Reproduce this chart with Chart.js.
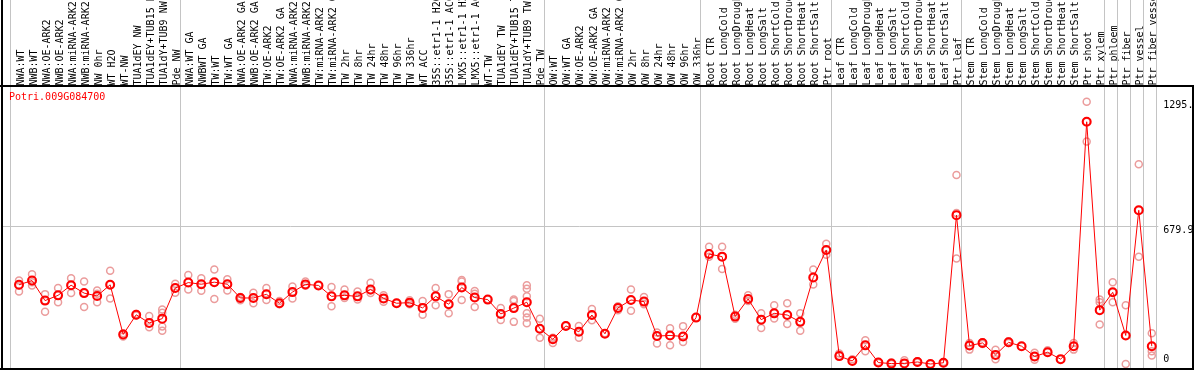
<!DOCTYPE html>
<html>
<head>
<meta charset="utf-8">
<title>Potri.009G084700</title>
<script src="https://cdn.jsdelivr.net/npm/chart.js@4/dist/chart.umd.min.js"></script>
<style>
    html, body { margin: 0; padding: 0; background: #fff; }
    #wadah { width: 1194px; height: 370px; }
</style>
</head>
<body>
<div id="wadah"><canvas id="grafik-ekspresi" width="1194" height="370"></canvas></div>
<script>
const geneName = 'Potri.009G084700';

const categories = [
    'NWA:WT', 'NWB:WT', 'NWA:OE-ARK2', 'NWB:OE-ARK2', 'NWA:miRNA-ARK2', 'NWB:miRNA-ARK2',
    'NW 0hr', 'WT H2O', 'WT-NW', 'TUA1dEY NW', 'TUA1dEY+TUB15 NW', 'TUA1dY+TUB9 NW', 'Pde NW',
    'NWA:WT GA', 'NWBWT GA', 'TW:WT', 'TW:WT GA', 'NWA:OE-ARK2 GA', 'NWB:OE-ARK2 GA',
    'TW:OE-ARK2', 'TW:OE-ARK2 GA', 'NWA:miRNA-ARK2 GA', 'NWB:miRNA-ARK2 GA', 'TW:miRNA-ARK2',
    'TW:miRNA-ARK2 GA', 'TW 2hr', 'TW 8hr', 'TW 24hr', 'TW 48hr', 'TW 96hr', 'TW 336hr', 'WT ACC',
    '35S::etr1-1 H2O', '35S::etr1-1 ACC', 'LMX5::etr1-1 H2O', 'LMX5::etr1-1 ACC', 'WT-TW',
    'TUA1dEY TW', 'TUA1dEY+TUB15 TW', 'TUA1dY+TUB9 TW', 'Pde TW',
    'OW:WT', 'OW:WT GA', 'OW:OE-ARK2', 'OW:OE-ARK2 GA', 'OW:miRNA-ARK2', 'OW:miRNA-ARK2 GA',
    'OW 2hr', 'OW 8hr', 'OW 24hr', 'OW 48hr', 'OW 96hr', 'OW 336hr',
    'Root CTR', 'Root LongCold', 'Root LongDrought', 'Root LongHeat', 'Root LongSalt',
    'Root ShortCold', 'Root ShortDrought', 'Root ShortHeat', 'Root ShortSalt', 'Ptr root',
    'Leaf CTR', 'Leaf LongCold', 'Leaf LongDrought', 'Leaf LongHeat', 'Leaf LongSalt',
    'Leaf ShortCold', 'Leaf ShortDrought', 'Leaf ShortHeat', 'Leaf ShortSalt', 'Ptr leaf',
    'Stem CTR', 'Stem LongCold', 'Stem LongDrought', 'Stem LongHeat', 'Stem LongSalt',
    'Stem ShortCold', 'Stem ShortDrought', 'Stem ShortHeat', 'Stem ShortSalt', 'Ptr shoot',
    'Ptr xylem', 'Ptr phloem', 'Ptr fiber', 'Ptr vessel', 'Ptr fiber vessel'
];

// last category of each block (gray separators)
const groupEnds = [12, 40, 52, 62, 72, 83, 84, 85, 86, 87];

const meanValues = [
    391, 412, 313, 339, 389, 350, 336, 391, 146, 243, 203, 224, 375,
    402, 394, 404, 394, 326, 326, 344, 300, 355, 393, 388, 334, 339, 334, 368, 324, 300,
    303, 277, 334, 295, 378, 328, 318, 247, 276, 305, 174,
    122, 188, 159, 242, 149, 277, 316, 308, 138, 141, 136, 229,
    543, 530, 234, 321, 219, 250, 242, 208, 427, 563,
    39, 15, 92, 7, 2, 3, 10, 0, 6, 735,
    91, 104, 45, 107, 88, 37, 58, 24, 88, 1196, 266,
    354, 141, 759, 88
];

const replicateValues = [
    [412, 388, 358], [443, 404, 388], [345, 313, 258], [375, 339, 305], [423, 388, 350],
    [407, 350, 282], [363, 347, 305], [461, 391, 324], [152, 143, 136], [247, 243, 240],
    [237, 203, 182], [269, 253, 185, 164], [396, 375, 352],
    [440, 402, 368], [423, 394, 362], [467, 404, 321], [418, 394, 363], [331, 323, 315],
    [352, 326, 300], [375, 344, 316], [311, 300, 295], [383, 355, 324], [407, 393, 386],
    [388, 390], [380, 334, 285], [368, 339, 326], [358, 334, 318], [401, 363, 350],
    [339, 324, 307], [300, 301], [315, 303, 295], [311, 277, 243], [375, 334, 290],
    [345, 295, 251], [415, 407, 378, 316], [360, 347, 328, 282], [318, 320],
    [277, 247, 217], [318, 311, 276, 208], [389, 371, 334, 305, 250, 230, 201], [224, 174, 130],
    [130, 122, 104], [188, 190], [188, 159, 130], [272, 242, 216], [152, 149], [285, 277, 266],
    [368, 316, 263], [331, 308, 295], [156, 138, 101], [177, 141, 92], [187, 136, 109], [229],
    [579, 543, 529], [579, 530, 469], [243, 234, 224], [339, 321, 311], [250, 219, 178],
    [290, 250, 225], [300, 242, 198], [250, 208, 164], [467, 427, 393], [594, 563, 539],
    [52, 39], [23, 15], [117, 92, 63], [10, 5], [8, 0], [18, 3], [13, 8], [0, 0], [10, 4],
    [933, 745, 521],
    [104, 91, 71], [107, 99], [70, 45, 23], [112, 104], [88], [55, 37, 21], [68, 58], [24],
    [104, 88, 71], [1295, 1196, 1098], [318, 305, 266, 195],
    [404, 354, 305], [290, 141, 0], [986, 759, 529], [152, 88, 63, 42]
];

const yTickValues = [0, 679.9, 1295];
const yTickLabels = ['0', '679.9', '1295.'];
const yMax = 1359.8;
const gridValue = 679.9;

const monoFont = '"DejaVu Sans Mono", "Liberation Mono", monospace';

// flatten replicates into {x, y} points on the category axis
const replicatePoints = [];
replicateValues.forEach((reps, i) => {
    reps.forEach(v => replicatePoints.push({ x: categories[i], y: v }));
});

const bingkai = {
    id: 'bingkai',
    beforeDatasetsDraw(chart) {
        const { ctx, chartArea, scales: { x, y } } = chart;
        ctx.save();
        ctx.strokeStyle = '#c4c4c4';
        ctx.lineWidth = 1;

        // horizontal grid line
        const gy = Math.round(y.getPixelForValue(gridValue)) + 0.5;
        ctx.beginPath();
        ctx.moveTo(1, gy);
        ctx.lineTo(chartArea.right, gy);
        ctx.stroke();

        // block separators, full height
        const sep = [x.getPixelForValue(0) - 8.7].concat(groupEnds.map(i => x.getPixelForValue(i) + 4.3));
        sep.forEach(px => {
            const sx = Math.round(px) + 0.5;
            ctx.beginPath();
            ctx.moveTo(sx, 0);
            ctx.lineTo(sx, chart.height);
            ctx.stroke();
        });
        ctx.restore();
    },
    afterDraw(chart) {
        const { ctx, chartArea, scales: { y } } = chart;
        const w = chart.width, h = chart.height;
        ctx.save();

        ctx.strokeStyle = '#000';
        ctx.lineWidth = 2;
        ctx.beginPath();
        ctx.moveTo(0, 86);
        ctx.lineTo(w, 86);
        ctx.moveTo(2, 0);
        ctx.lineTo(2, h);
        ctx.moveTo(0, h - 1);
        ctx.lineTo(w, h - 1);
        ctx.moveTo(w - 1, 86);
        ctx.lineTo(w - 1, h);
        ctx.stroke();

        ctx.font = '10px ' + monoFont;
        ctx.fillStyle = '#ff0000';
        ctx.textAlign = 'left';
        ctx.textBaseline = 'middle';
        ctx.fillText(geneName, 9, 97);

        ctx.fillStyle = '#000';
        yTickValues.forEach((v, i) => {
            const py = y.getPixelForValue(v);
            if (v === 0) {
                ctx.textBaseline = 'alphabetic';
                ctx.fillText(yTickLabels[i], chartArea.right + 5, py - 2);
            } else {
                ctx.textBaseline = 'top';
                ctx.fillText(yTickLabels[i], chartArea.right + 5, py - 1);
            }
        });
        ctx.restore();
    }
};

new Chart(document.getElementById('grafik-ekspresi'), {
    type: 'line',
    data: {
        labels: categories,
        datasets: [{
            label: 'mean',
            data: meanValues,
            borderColor: '#ff0000',
            borderWidth: 1,
            pointRadius: 4,
            pointBorderWidth: 2,
            pointBorderColor: '#ff0000',
            pointBackgroundColor: 'rgba(0,0,0,0)',
            tension: 0,
            clip: false
        }, {
            label: 'replicates',
            data: replicatePoints,
            showLine: false,
            pointRadius: 3.5,
            pointBorderWidth: 1.5,
            pointBorderColor: '#eb9c9c',
            pointBackgroundColor: 'rgba(0,0,0,0)',
            clip: false
        }]
    },
    options: {
        responsive: false,
        animation: false,
        devicePixelRatio: 1,
        layout: { padding: { left: 12.5, right: 0, top: 0, bottom: 2 } },
        plugins: {
            legend: { display: false },
            tooltip: { enabled: false }
        },
        scales: {
            x: {
                type: 'category',
                position: 'top',
                offset: true,
                grid: { display: false, drawTicks: false },
                border: { display: false },
                ticks: {
                    autoSkip: false,
                    minRotation: 90,
                    maxRotation: 90,
                    padding: 3,
                    labelOffset: 14,
                    color: '#000',
                    font: { family: monoFont, size: 10 }
                },
                afterFit(scale) { scale.height = 88.6; }
            },
            y: {
                position: 'right',
                min: 0,
                max: yMax,
                grid: { display: false, drawTicks: false },
                border: { display: false },
                ticks: { display: false },
                afterFit(scale) { scale.width = 35.7; }
            }
        }
    },
    plugins: [bingkai]
});
</script>
</body>
</html>
